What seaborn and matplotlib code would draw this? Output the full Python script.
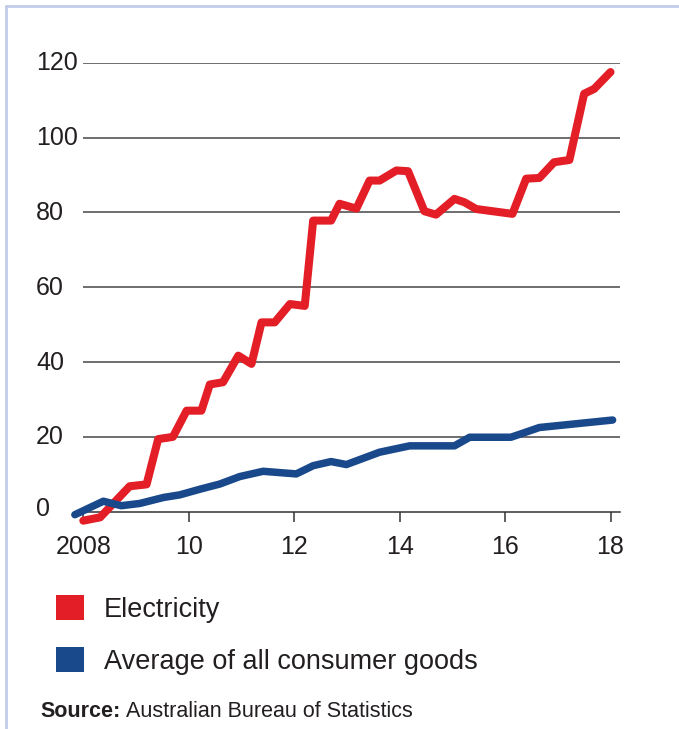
import matplotlib
matplotlib.use("Agg")
import matplotlib.pyplot as plt
from matplotlib.patches import Patch
from matplotlib.lines import Line2D
from matplotlib.transforms import Affine2D
import seaborn as sns
import pandas as pd

# ---- data ----
elec_x = [2008.00, 2008.32, 2008.88, 2009.20, 2009.42, 2009.70, 2009.96, 2010.24,
          2010.40, 2010.65, 2010.94, 2011.19, 2011.38, 2011.63, 2011.92, 2012.20,
          2012.36, 2012.70, 2012.86, 2013.18, 2013.43, 2013.62, 2013.94, 2014.16,
          2014.47, 2014.69, 2015.04, 2015.23, 2015.45, 2016.14, 2016.40, 2016.65,
          2016.93, 2017.22, 2017.50, 2017.69, 2018.00]
elec_y = [-2.4, -1.5, 6.8, 7.3, 19.4, 20.0, 27.0, 27.0,
          34.0, 34.6, 41.7, 39.5, 50.6, 50.6, 55.5, 55.0,
          77.8, 77.8, 82.3, 81.0, 88.5, 88.5, 91.2, 91.0,
          80.3, 79.4, 83.6, 82.7, 80.9, 79.6, 89.0, 89.2,
          93.4, 94.0, 111.7, 113.0, 117.5]

avg_x = [2007.84, 2008.38, 2008.72, 2009.07, 2009.52, 2009.83, 2010.21, 2010.59,
         2010.97, 2011.41, 2012.04, 2012.36, 2012.70, 2012.99, 2013.62, 2014.19,
         2015.04, 2015.33, 2016.11, 2016.30, 2016.65, 2018.04]
avg_y = [-0.8, 2.8, 1.6, 2.2, 3.8, 4.5, 6.0, 7.4,
         9.4, 10.8, 10.1, 12.3, 13.4, 12.6, 15.9, 17.6,
         17.6, 19.9, 19.9, 20.8, 22.5, 24.5]

series_names = ["Electricity", "Average of all consumer goods"]
x_ticks = [2008, 2010, 2012, 2014, 2016, 2018]
x_tick_labels = ["2008", "10", "12", "14", "16", "18"]
y_ticks = [0, 20, 40, 60, 80, 100, 120]
y_tick_labels = ["0", "20", "40", "60", "80", "100", "120"]
source_bold = "Source:"
source_rest = "Australian Bureau of Statistics"

RED = "#e31e26"
BLUE = "#19498b"
TEXT = "#231f20"

sns.set_theme(style="white")
plt.rcParams["font.family"] = ["Liberation Sans", "DejaVu Sans"]

W, H = 679, 729
fig = plt.figure(figsize=(W / 100, H / 100), dpi=100)
ax = fig.add_axes([83.3 / W, 1 - 511.7 / H, (620 - 83.3) / W, (511.7 - 62.7) / H])

df_e = pd.DataFrame({"x": elec_x, "y": elec_y})
df_a = pd.DataFrame({"x": avg_x, "y": avg_y})
sns.lineplot(data=df_e, x="x", y="y", color=RED, lw=5.8, ax=ax, legend=False,
             solid_capstyle="round", solid_joinstyle="round", clip_on=False, zorder=3)
sns.lineplot(data=df_a, x="x", y="y", color=BLUE, lw=5.4, ax=ax, legend=False,
             solid_capstyle="round", solid_joinstyle="round", clip_on=False, zorder=4)

ax.set_xlim(2008, 2018.18)
ax.set_ylim(0, 120)
ax.set_xlabel("")
ax.set_ylabel("")

for y in y_ticks[1:]:
    ax.axhline(y, color="#555555", lw=1.2, zorder=1)

for s in ["top", "right", "left"]:
    ax.spines[s].set_visible(False)
ax.spines["bottom"].set_color("#333333")
ax.spines["bottom"].set_linewidth(1.1)

ax.set_xticks(x_ticks)
ax.set_xticklabels(x_tick_labels)
ax.set_yticks(y_ticks)
ax.set_yticklabels(y_tick_labels)
ax.tick_params(axis="x", direction="out", length=7.5, width=1.1, color="#333333",
               labelsize=18, labelcolor=TEXT, pad=9, bottom=True)
ax.tick_params(axis="y", length=0, labelsize=18, labelcolor=TEXT, pad=34)
for lab in ax.get_yticklabels():
    lab.set_horizontalalignment("left")
    dy = 5 if lab.get_text() == "0" else 2
    lab.set_transform(lab.get_transform() + Affine2D().translate(0, dy))

# legend
handles = [Patch(facecolor=RED, edgecolor="none"), Patch(facecolor=BLUE, edgecolor="none")]
fig.legend(handles, series_names, loc="upper left", bbox_to_anchor=(56 / W, 1 - 595 / H),
           frameon=False, fontsize=19.5, handlelength=1.03, handleheight=1.03,
           handletextpad=0.75, labelspacing=0.9, borderaxespad=0, borderpad=0,
           labelcolor=TEXT)

# source
t1 = fig.text(40 / W, 1 - 717 / H, source_bold, fontsize=15.5, fontweight="bold",
              color=TEXT, va="baseline", ha="left")
fig.canvas.draw()
bb = t1.get_window_extent()
fig.text((bb.x1 + 6) / W, 1 - 717 / H, source_rest, fontsize=15.5,
         color=TEXT, va="baseline", ha="left")

# frame lines
fig.add_artist(Line2D([5.5 / W, 1], [1 - 5.5 / H, 1 - 5.5 / H], transform=fig.transFigure,
                      color="#c3cbe9", lw=2))
fig.add_artist(Line2D([5.5 / W, 5.5 / W], [0, 1 - 5.5 / H], transform=fig.transFigure,
                      color="#c3cbe9", lw=2))

fig.savefig("out.png", dpi=100)
